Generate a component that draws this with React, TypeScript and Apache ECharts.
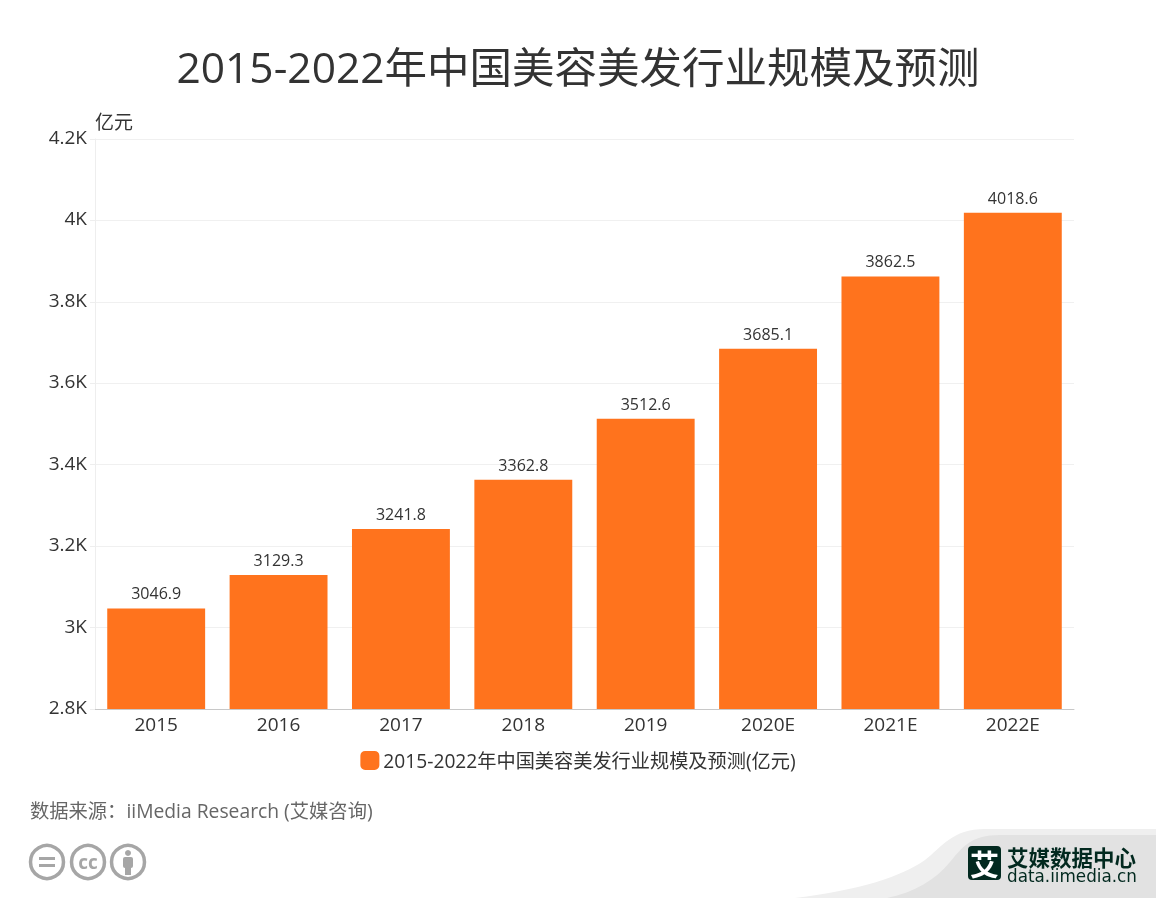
import React, { useEffect, useRef } from "react";
import * as echarts from "echarts";

const categories = ["2015", "2016", "2017", "2018", "2019", "2020E", "2021E", "2022E"];
const values = [3046.9, 3129.3, 3241.8, 3362.8, 3512.6, 3685.1, 3862.5, 4018.6];
const seriesName = "2015-2022年中国美容美发行业规模及预测(亿元)";
const titleText = "2015-2022年中国美容美发行业规模及预测";
const sourceText = "数据来源：iiMedia Research (艾媒咨询)";
const unitText = "亿元";
const FONT = '"Noto Sans CJK SC", "Open Sans", sans-serif';
const LATIN = '"Open Sans", "Noto Sans CJK SC", sans-serif';

echarts.graphic.registerShape("bandLight", echarts.graphic.extendPath(
  "M795 898C860 890 900 877 925 860C942 847 952 829 985 829L1156 829L1156 898Z", {}) as any);
echarts.graphic.registerShape("bandDark", echarts.graphic.extendPath(
  "M887 898C915 892 935 880 950 862C962 848 970 835 1000 835L1156 835L1156 898Z", {}) as any);

export default function App() {
  const ref = useRef<HTMLDivElement>(null);
  useEffect(() => {
    const chart = echarts.init(ref.current!, null, { renderer: "svg" });
    const gray = "#a6a6a6";
    const ccIcon = (cx: number) => ({ type: "circle", shape: { cx, cy: 862, r: 16.5 }, style: { fill: "none", stroke: gray, lineWidth: 3.5 } });
    chart.setOption({
      animation: false,
      title: {
        text: titleText,
        left: "center",
        top: 40,
        textStyle: { fontFamily: LATIN, fontSize: 42.5, fontWeight: "normal", color: "#333333" },
      },
      legend: {
        data: [seriesName],
        bottom: 123,
        left: "center",
        itemWidth: 19,
        itemHeight: 19,
        itemGap: 6,
        icon: "roundRect",
        textStyle: { fontFamily: LATIN, fontSize: 19.2, color: "#333333", padding: [0, 0, 0, -1] },
      },
      grid: { left: 95, right: 82, top: 139, bottom: 189, containLabel: false },
      xAxis: {
        type: "category",
        data: categories,
        axisTick: { alignWithLabel: true, length: 5, lineStyle: { color: "#c8c8c8" } },
        axisLine: { lineStyle: { color: "#c8c8c8" } },
        axisLabel: { fontFamily: LATIN, fontSize: 19, color: "#333333", margin: 5 },
      },
      yAxis: {
        type: "value",
        min: 2800,
        max: 4200,
        interval: 200,
        axisLine: { show: true, lineStyle: { color: "#eeeeee", width: 1 } },
        axisTick: { show: true, length: 5, lineStyle: { color: "#eeeeee" } },
        splitLine: { lineStyle: { color: "#f0f0f0" } },
        axisLabel: {
          fontFamily: LATIN,
          fontSize: 19,
          color: "#333333",
          margin: 8,
          verticalAlign: "bottom",
          lineHeight: 4,
          formatter: (v: number) => `${+(v / 1000).toFixed(1)}K`,
        },
      },
      series: [
        {
          name: seriesName,
          type: "bar",
          data: values,
          barWidth: "80%",
          itemStyle: { color: "#ff731d" },
          label: {
            show: true,
            position: "top",
            distance: 7,
            fontFamily: LATIN,
            fontSize: 16,
            color: "#333333",
          },
        },
      ],
      graphic: [
        { type: "text", x: 95, y: 111, style: { text: unitText, fontFamily: FONT, fontSize: 19, fill: "#333333" } },
        { type: "text", x: 30, y: 801, style: { text: sourceText, fontFamily: LATIN, fontSize: 19.3, fill: "#666666" } },
        { type: "bandLight", style: { fill: "#efefef" } },
        { type: "bandDark", style: { fill: "#e2e2e2" } },
        ccIcon(47), ccIcon(88), ccIcon(128),
        { type: "rect", shape: { x: 39, y: 857, width: 16, height: 3 }, style: { fill: gray } },
        { type: "rect", shape: { x: 39, y: 864, width: 16, height: 3 }, style: { fill: gray } },
        { type: "text", x: 88, y: 862, style: { text: "cc", fontFamily: LATIN, fontWeight: "bold", fontSize: 19, fill: gray, align: "center", verticalAlign: "middle" } },
        { type: "circle", shape: { cx: 128, cy: 853, r: 3 }, style: { fill: gray } },
        { type: "rect", shape: { x: 123, y: 857, width: 10, height: 11, r: 2 }, style: { fill: gray } },
        { type: "rect", shape: { x: 125, y: 866, width: 6, height: 9 }, style: { fill: gray } },
        { type: "rect", shape: { x: 968, y: 846, width: 33, height: 34, r: 4 }, style: { fill: "#02291f" } },
        { type: "text", x: 984.5, y: 863, style: { text: "艾", fontFamily: FONT, fontWeight: "bold", fontSize: 29, fill: "#ffffff", align: "center", verticalAlign: "middle" } },
        { type: "text", x: 1007, y: 846, style: { text: "艾媒数据中心", fontFamily: FONT, fontWeight: "bold", fontSize: 21.5, lineHeight: 20, fill: "#02291f" } },
        { type: "text", x: 1007, y: 867, style: { text: "data.iimedia.cn", fontFamily: '"DejaVu Sans", sans-serif', fontSize: 16.8, lineHeight: 17, fill: "#02291f" } },
      ],
    });
    return () => chart.dispose();
  }, []);
  return <div ref={ref} style={{ position: "fixed", left: 0, top: 0, width: 1156, height: 898 }} />;
}
